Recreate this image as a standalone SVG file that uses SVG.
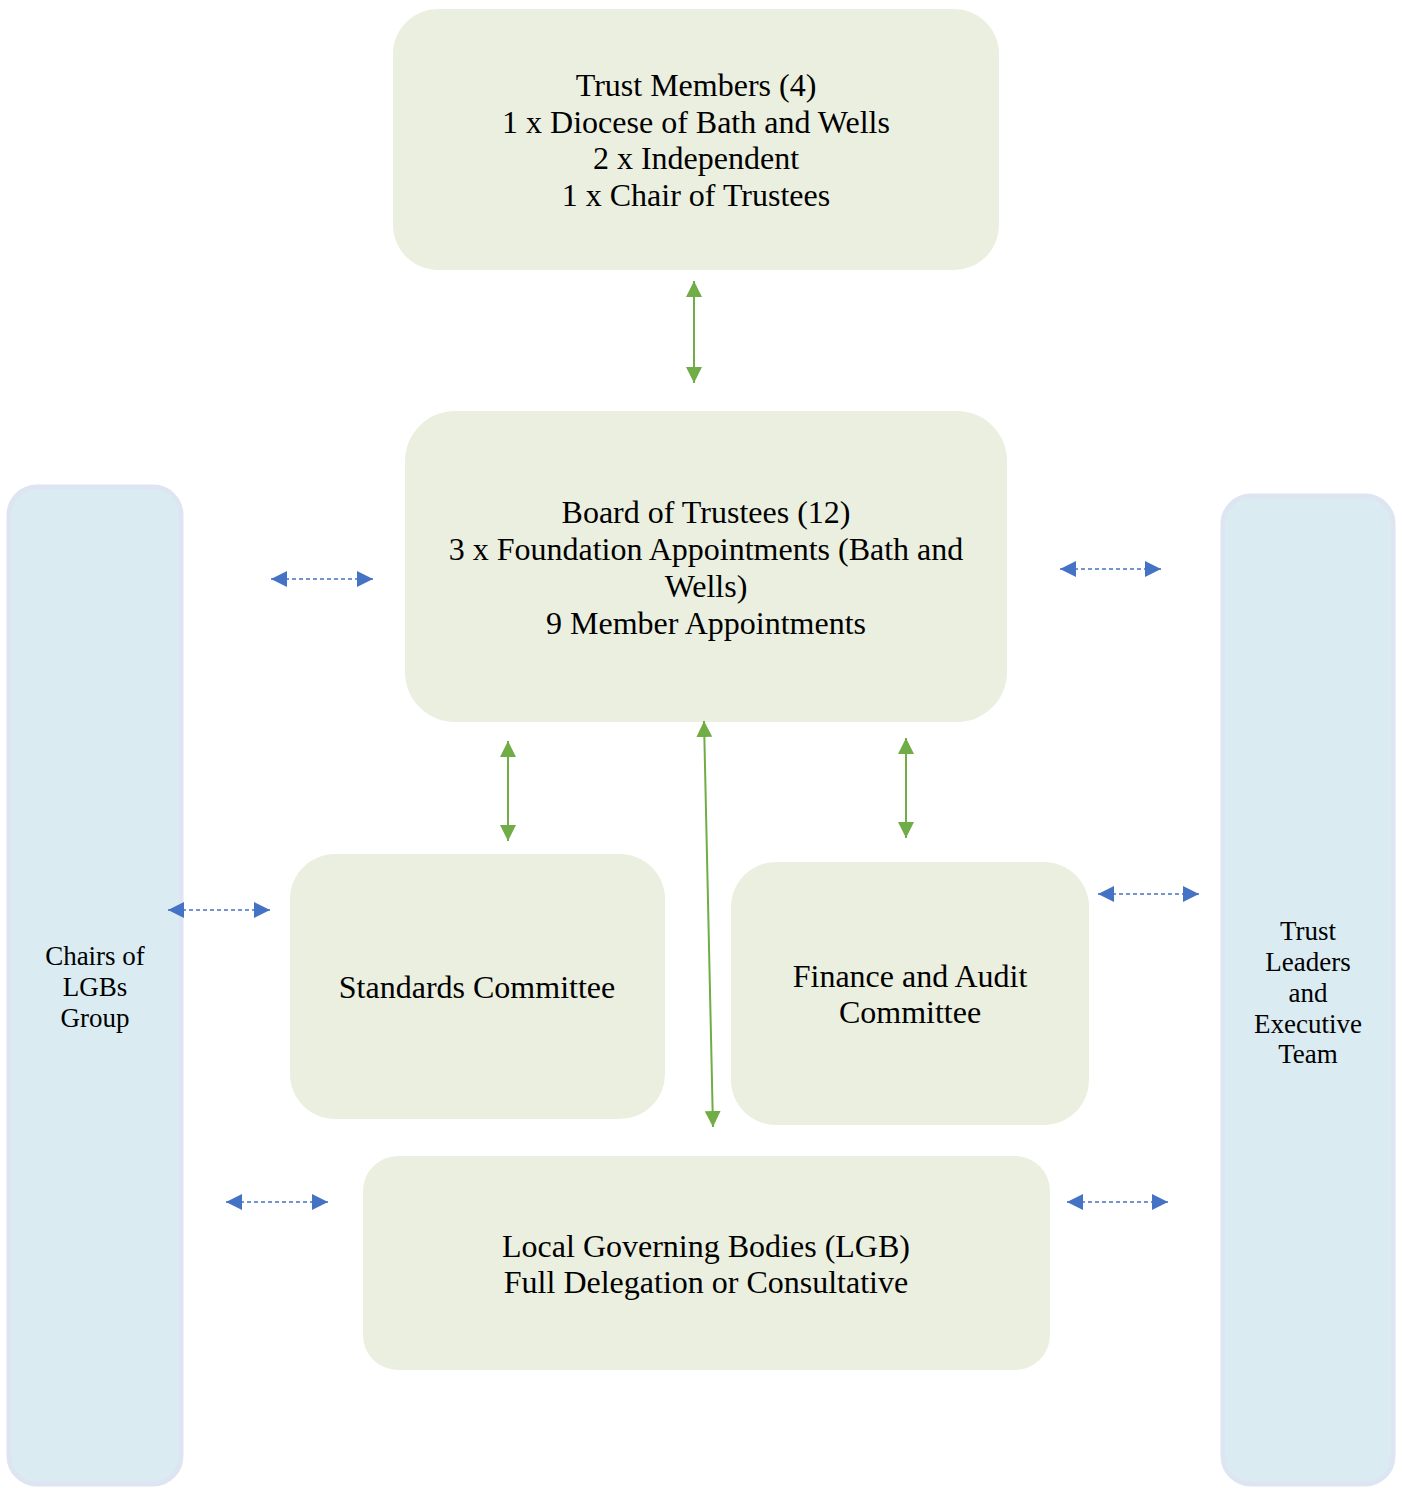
<svg xmlns="http://www.w3.org/2000/svg" width="1402" height="1488" viewBox="0 0 1402 1488">
<style>
.box{fill:#ebefdf}
.side{fill:#daecf2;stroke:#dde5f2;stroke-width:5}
.t{font-family:"Liberation Serif","Times New Roman",serif;font-size:32px;fill:#000;text-anchor:middle}
.s{font-family:"Liberation Serif","Times New Roman",serif;font-size:27px;fill:#000;text-anchor:middle}
.g{stroke:#70ad47;stroke-width:2;fill:none;marker-start:url(#ga);marker-end:url(#ga)}
.b{stroke:#4472c4;stroke-width:1.5;stroke-dasharray:4,3;fill:none;marker-start:url(#ba);marker-end:url(#ba)}
</style>
<defs>
<marker id="ga" viewBox="0 0 10 10" refX="10" refY="5" markerWidth="16" markerHeight="16" markerUnits="userSpaceOnUse" orient="auto-start-reverse"><path d="M0,0 L10,5 L0,10 z" fill="#70ad47"/></marker>
<marker id="ba" viewBox="0 0 10 10" refX="10" refY="5" markerWidth="16" markerHeight="16" markerUnits="userSpaceOnUse" orient="auto-start-reverse"><path d="M0,0 L10,5 L0,10 z" fill="#4472c4"/></marker>
</defs>
<g id="chairs">
<rect class="side" x="9" y="487" width="172" height="997" rx="28"/>
<text class="s" x="95" y="965">Chairs of</text>
<text class="s" x="95" y="996">LGBs</text>
<text class="s" x="95" y="1027">Group</text>
</g>
<g id="trust-leaders">
<rect class="side" x="1223" y="496" width="170" height="988" rx="28"/>
<text class="s" x="1308" y="940">Trust</text>
<text class="s" x="1308" y="971">Leaders</text>
<text class="s" x="1308" y="1002">and</text>
<text class="s" x="1308" y="1033">Executive</text>
<text class="s" x="1308" y="1063">Team</text>
</g>
<g id="trust-members">
<rect class="box" x="393" y="9" width="606" height="261" rx="45"/>
<text class="t" x="696" y="96">Trust Members (4)</text>
<text class="t" x="696" y="133">1 x Diocese of Bath and Wells</text>
<text class="t" x="696" y="169">2 x Independent</text>
<text class="t" x="696" y="206">1 x Chair of Trustees</text>
</g>
<g id="board">
<rect class="box" x="405" y="411" width="602" height="311" rx="50"/>
<text class="t" x="706" y="523">Board of Trustees (12)</text>
<text class="t" x="706" y="560">3 x Foundation Appointments (Bath and</text>
<text class="t" x="706" y="597">Wells)</text>
<text class="t" x="706" y="634">9 Member Appointments</text>
</g>
<g id="standards">
<rect class="box" x="290" y="854" width="375" height="265" rx="45"/>
<text class="t" x="477" y="998">Standards Committee</text>
</g>
<g id="finance">
<rect class="box" x="731" y="862" width="358" height="263" rx="45"/>
<text class="t" x="910" y="987">Finance and Audit</text>
<text class="t" x="910" y="1023">Committee</text>
</g>
<g id="lgb">
<rect class="box" x="363" y="1156" width="687" height="214" rx="35"/>
<text class="t" x="706" y="1257">Local Governing Bodies (LGB)</text>
<text class="t" x="706" y="1293">Full Delegation or Consultative</text>
</g>
<g id="connectors">
<line class="g" x1="694" y1="281" x2="694" y2="383"/>
<line class="g" x1="508" y1="741" x2="508" y2="841"/>
<line class="g" x1="906" y1="738" x2="906" y2="838"/>
<line class="g" x1="704" y1="721" x2="713" y2="1127"/>
<line class="b" x1="271" y1="579" x2="373" y2="579"/>
<line class="b" x1="1060" y1="569" x2="1161" y2="569"/>
<line class="b" x1="168" y1="910" x2="270" y2="910"/>
<line class="b" x1="1098" y1="894" x2="1199" y2="894"/>
<line class="b" x1="226" y1="1202" x2="328" y2="1202"/>
<line class="b" x1="1067" y1="1202" x2="1168" y2="1202"/>
</g>
</svg>
